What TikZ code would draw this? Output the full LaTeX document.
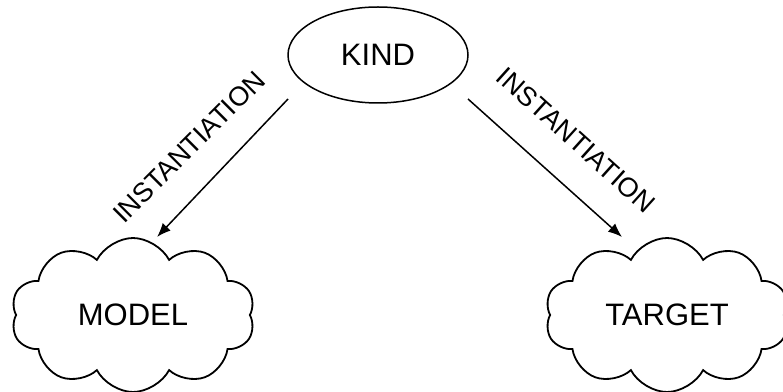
\documentclass[tikz,border=0pt]{standalone}
\usepackage{fontspec}
\setmainfont{Liberation Sans}
\usetikzlibrary{shapes.geometric,shapes.symbols,arrows.meta}
\begin{document}
\begin{tikzpicture}[x=1pt,y=1pt,
  lbl/.style={font=\fontsize{27}{27}\selectfont},
  big/.style={font=\fontsize{31}{31}\selectfont},
  cloudbox/.style={cloud, cloud puffs=10, cloud puff arc=125, draw, line width=1.8pt, minimum width=244pt, minimum height=154pt, aspect=1.7, big},
  arr/.style={-{Latex[length=14pt,width=11pt]}, line width=1.5pt}]
\useasboundingbox (0,0) rectangle (783,391);
\begin{scope}
\clip (0,0) rectangle (783,391);
\node[ellipse, draw, line width=1.5pt, minimum width=180pt, minimum height=96pt, big] (kind) at (378,336) {KIND};
\node[cloudbox] (model) at (133,76) {MODEL};
\node[cloudbox] (target) at (667,76) {TARGET};
\end{scope}
\coordinate (s1) at (288,292);
\coordinate (e1) at (157,154);
\coordinate (s2) at (468,292);
\coordinate (e2) at (622,154);
\draw[arr] (s1) -- (e1);
\draw[arr] (s2) -- (e2);
\node[lbl, rotate=45] (l1) at (189,244) {INSTANTIATION};
\node[lbl, rotate=-42] (l2) at (576,251) {INSTANTIATION};
\end{tikzpicture}
\end{document}
